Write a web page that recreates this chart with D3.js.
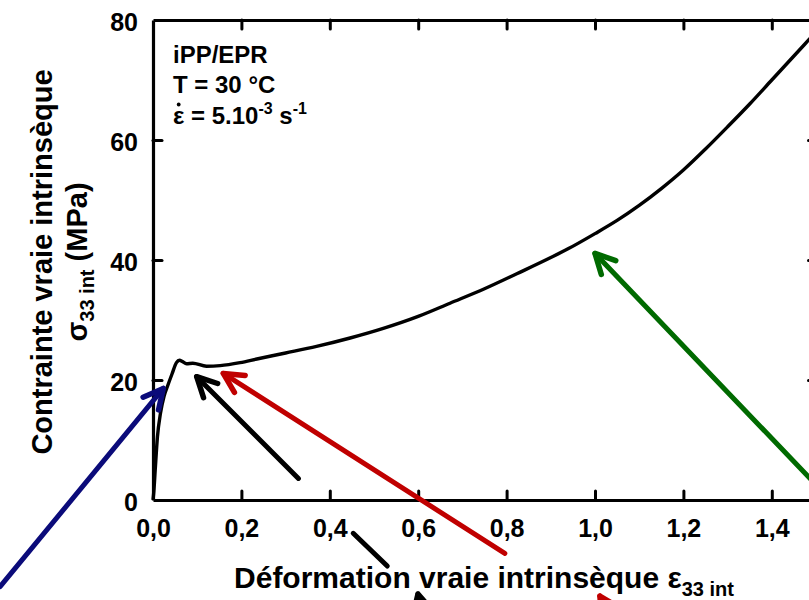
<!DOCTYPE html>
<html><head><meta charset="utf-8">
<script src="https://cdn.jsdelivr.net/npm/d3@7"></script>
<style>
body{margin:0;background:#fff}
svg{display:block}
text{font-family:"Liberation Sans",Arial,sans-serif;font-weight:bold;fill:#000}
</style>
</head><body>
<svg id="c" width="809" height="600"></svg>
<script>
// ---- data (true strain, true stress MPa) ----
const strain = [0, 0.002, 0.005, 0.010, 0.017, 0.025, 0.033, 0.043, 0.053, 0.060, 0.066, 0.076, 0.090, 0.121, 0.152, 0.197, 0.235, 0.30, 0.37, 0.446, 0.521, 0.60, 0.672, 0.75, 0.823, 0.90, 0.94, 1.00, 1.05, 1.10, 1.15, 1.20, 1.25, 1.30, 1.35, 1.40, 1.45, 1.50];
const stress = [0, 1.5, 5.0, 10.5, 14.5, 17.3, 19.0, 21.0, 22.9, 23.3, 23.1, 22.7, 22.8, 22.3, 22.4, 22.9, 23.5, 24.5, 25.6, 27.0, 28.6, 30.6, 32.8, 35.2, 37.7, 40.4, 41.9, 44.4, 46.6, 49.1, 51.9, 55.0, 58.5, 62.2, 66.0, 70.0, 74.0, 78.0];
const xTicks = [0, 0.2, 0.4, 0.6, 0.8, 1.0, 1.2, 1.4];
const yTicks = [0, 20, 40, 60, 80];
// annotation arrows: tail and tip in (strain, stress) units
const arrowNames = ["navy", "black", "red", "green", "blackLow", "redLow"];
const arrowTail = [[-0.346, -14.45], [0.329, 3.6], [0.796, -8.9], [1.577, -3.4], [0.631, -25.0], [1.1018, -26.7]];
const arrowTip  = [[0.0233, 18.6], [0.0989, 20.55], [0.159, 21.1], [1.0, 41.1], [0.5995, -15.67], [1.011, -16.0]];
const arrowColor = ["#0b0b7a", "#000000", "#c00000", "#006a00", "#000000", "#c00000"];
const segment = [[0.453, -5.55], [0.530, -11.0]];

const svg = d3.select("#c");
const x = d3.scaleLinear().domain([0, 1.5]).range([153, 816]);
const y = d3.scaleLinear().domain([0, 80]).range([500, 20]);
const fmtX = d => d3.format(".1f")(d).replace(".", ",");

function styleAxis(g){
  g.selectAll("path.domain").attr("stroke", "#000").attr("stroke-width", 3.2);
  g.selectAll(".tick line").attr("stroke", "#000").attr("stroke-width", 3).attr("stroke-linecap","round");
  g.selectAll("text").attr("font-family", "'Liberation Sans', Arial, sans-serif").attr("font-weight", "bold").attr("fill", "#000");
}

// bottom
svg.append("g").attr("transform", `translate(0,${y(0)})`)
  .call(d3.axisBottom(x).tickValues(xTicks).tickSizeInner(-9).tickSizeOuter(0).tickPadding(19).tickFormat(fmtX))
  .call(styleAxis)
  .call(g => g.selectAll("text").attr("font-size", 25))
  .call(g => g.selectAll(".tick").filter(d => d === 0).select("line").remove());
// top
svg.append("g").attr("transform", `translate(0,${y(80)})`)
  .call(d3.axisTop(x).tickValues(xTicks.filter(d => d > 0)).tickSizeInner(-9).tickSizeOuter(0).tickFormat(""))
  .call(styleAxis);
// left
svg.append("g").attr("transform", `translate(${x(0)},0)`)
  .call(d3.axisLeft(y).tickValues(yTicks).tickSizeInner(-9).tickSizeOuter(0).tickPadding(15))
  .call(styleAxis)
  .call(g => g.selectAll("text").attr("font-size", 25).attr("dy", "0.42em"))
  .call(g => g.selectAll(".tick").filter(d => d === 0 || d === 80).select("line").remove());
// right
svg.append("g").attr("transform", `translate(${x(1.5)},0)`)
  .call(d3.axisRight(y).tickValues(yTicks.filter(d => d > 0 && d < 80)).tickSizeInner(-7.5).tickSizeOuter(0).tickFormat(""))
  .call(styleAxis);

// curve
const pts = strain.map((s, i) => [s, stress[i]]);
svg.append("path").datum(pts)
  .attr("fill", "none").attr("stroke", "#000").attr("stroke-width", 3.4)
  .attr("stroke-linejoin", "round")
  .attr("d", d3.line().x(d => x(d[0])).y(d => y(d[1])).curve(d3.curveMonotoneX));

// arrows
const ag = svg.append("g").attr("fill", "none").attr("stroke-linecap", "round").attr("stroke-linejoin", "round");
arrowNames.forEach((n, i) => {
  const tx = x(arrowTail[i][0]), ty = y(arrowTail[i][1]);
  const px = x(arrowTip[i][0]), py = y(arrowTip[i][1]);
  const ang = Math.atan2(ty - py, tx - px);
  const L = 22, a = 27 * Math.PI / 180;
  const w1 = [px + L * Math.cos(ang + a), py + L * Math.sin(ang + a)];
  const w2 = [px + L * Math.cos(ang - a), py + L * Math.sin(ang - a)];
  ag.append("line").attr("x1", tx).attr("y1", ty).attr("x2", px).attr("y2", py)
    .attr("stroke", arrowColor[i]).attr("stroke-width", 5);
  ag.append("path").attr("d", `M${w1[0]},${w1[1]}L${px},${py}L${w2[0]},${w2[1]}`)
    .attr("stroke", arrowColor[i]).attr("stroke-width", 5.5);
});
ag.append("line").attr("x1", x(segment[0][0])).attr("y1", y(segment[0][1]))
  .attr("x2", x(segment[1][0])).attr("y2", y(segment[1][1]))
  .attr("stroke", "#000").attr("stroke-width", 5);

// annotation text
const ann = svg.append("g").attr("font-size", 24);
ann.append("text").attr("x", 173).attr("y", 63).text("iPP/EPR");
ann.append("text").attr("x", 173).attr("y", 93).text("T = 30 °C");
const t3 = ann.append("text").attr("x", 173).attr("y", 124);
const eps = t3.append("tspan").text("\u03B5");
t3.append("tspan").text(" = 5.10");
t3.append("tspan").attr("dy", -10).attr("font-size", 16).text("-3");
t3.append("tspan").attr("dy", 10).text(" s");
t3.append("tspan").attr("dy", -10).attr("font-size", 16).text("-1");
const ew = eps.node().getComputedTextLength();
svg.append("circle").attr("cx", 173 + ew / 2).attr("cy", 104.5).attr("r", 1.9).attr("fill", "#000");

// axis titles
const xt = svg.append("text").attr("x", 484).attr("y", 588).attr("text-anchor", "middle").attr("font-size", 30);
xt.append("tspan").text("Déformation vraie intrinsèque \u03B5");
xt.append("tspan").attr("dy", 8).attr("font-size", 20).text("33 int");

const yt = svg.append("g").attr("transform", "translate(0,262) rotate(-90)");
yt.append("text").attr("x", 0).attr("y", 52).attr("text-anchor", "middle").attr("font-size", 29)
  .text("Contrainte vraie intrinsèque");
const yt2 = yt.append("text").attr("x", 0).attr("y", 87).attr("text-anchor", "middle").attr("font-size", 29);
yt2.append("tspan").text("\u03C3");
yt2.append("tspan").attr("dy", 7).attr("font-size", 20).text("33 int");
yt2.append("tspan").attr("dy", -7).text(" (MPa)");
</script>
</body></html>
